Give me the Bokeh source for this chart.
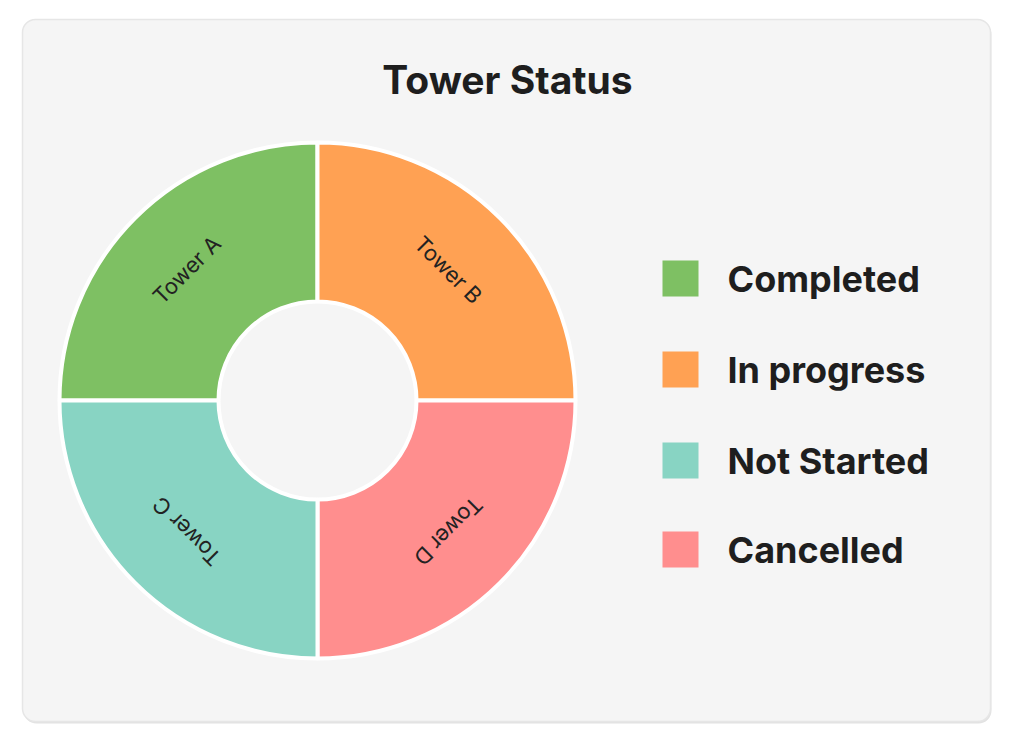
import numpy as np
from bokeh.plotting import figure
from bokeh.models import Range1d, ColumnDataSource
from bokeh.core.properties import value
from bokeh.embed import file_html
from bokeh.resources import INLINE

# ---- data ----
title_text = "Tower Status"
towers = ["Tower A", "Tower B", "Tower C", "Tower D"]
statuses = ["Completed", "In progress", "Not Started", "Cancelled"]
counts = [1, 1, 1, 1]
colors = ["#7ec063", "#ffa153", "#88d4c3", "#ff8e8e"]
# clockwise order of the towers around the ring, starting at the left (9 o'clock)
ring_order = ["Tower A", "Tower B", "Tower D", "Tower C"]

# ---- page geometry (data units == screen pixels, y measured upward) ----
WIN_W, WIN_H = 1012, 743
W, H = 994, 725
def sy(y):  # screen y (from top) -> data y
    return WIN_H - y

p = figure(width=W, height=H, output_backend="svg", toolbar_location=None,
           x_range=Range1d(0, W), y_range=Range1d(WIN_H - H, WIN_H),
           x_axis_type=None, y_axis_type=None, min_border=0,
           background_fill_color="white", border_fill_color="white",
           outline_line_color=None)
p.grid.visible = False

# card with soft shadow
p.quad(left=23, right=991, top=sy(21), bottom=sy(723), fill_color="#e2e2e2",
       line_color=None, border_radius=13)
p.quad(left=22, right=990, top=sy(19), bottom=sy(721), fill_color="#f5f5f5",
       line_color="#e6e6e6", line_width=1.5, border_radius=13)

# title
p.text(x=[507], y=[sy(79)], text=[title_text], text_align="center",
       text_baseline="middle", text_font=value("Inter"), text_font_size="39px",
       text_font_style="bold", text_color="#1e1e1e")

# donut
cx, cy = 317, sy(400)
r_in, r_out = 99, 258
vals = np.array([counts[towers.index(t)] for t in ring_order], dtype=float)
frac = vals / vals.sum()
ends_cum = np.cumsum(frac)
starts_cum = ends_cum - frac
# clockwise from 180 degrees
a_start = np.pi - ends_cum * 2 * np.pi
a_end = np.pi - starts_cum * 2 * np.pi
mid = (a_start + a_end) / 2
ring_colors = [colors[towers.index(t)] for t in ring_order]

src = ColumnDataSource(dict(start=a_start, end=a_end, color=ring_colors,
                            tower=ring_order))
p.annular_wedge(x=cx, y=cy, inner_radius=r_in, outer_radius=r_out,
                start_angle="start", end_angle="end", fill_color="color",
                line_color="white", line_width=4, source=src)

r_lab = 185
p.text(x=cx + r_lab * np.cos(mid), y=cy + r_lab * np.sin(mid), text=ring_order,
       angle=mid - np.pi / 2, text_align="center", text_baseline="middle",
       text_font=value("Inter"), text_font_size="22px", text_color="#222222")

# legend
leg_y = [sy(v) for v in (278, 369, 460, 549)]
p.rect(x=[680] * len(statuses), y=leg_y, width=36, height=36,
       fill_color=colors, line_color=None)
p.text(x=[727] * len(statuses), y=leg_y, text=statuses, text_align="left",
       text_baseline="middle", text_font=value("Inter"), text_font_size="36px",
       text_font_style="bold", text_color="#1e1e1e")

open("out.html", "w").write(file_html(p, INLINE))
